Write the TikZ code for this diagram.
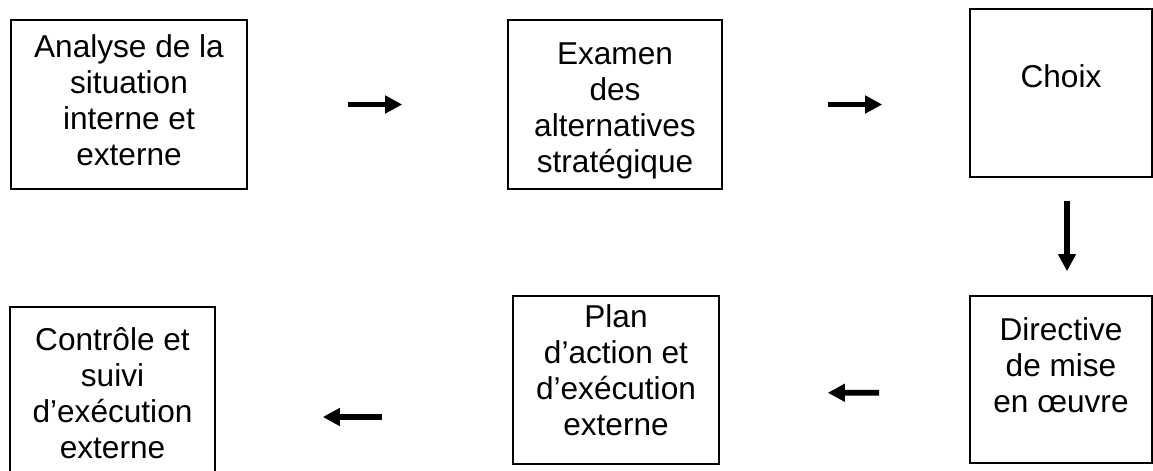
\documentclass[tikz,border=0pt]{standalone}
\usepackage{fontspec}
\setmainfont{Liberation Sans}
\usepackage{tikz}
\usetikzlibrary{positioning, arrows.meta}

\begin{document}
\begin{tikzpicture}[x=0.5pt, y=-0.5pt,
  box/.style={draw, line width=0.8pt, inner sep=0pt},
  txt/.style={inner sep=0pt, align=center, font=\fontsize{15.8pt}{18pt}\selectfont},
  flow/.style={line width=2.9pt, -{Triangle[length=8.5pt, width=8.5pt]}}]
\clip (0,0) rectangle (1153,471);
% boxes
\node[box, minimum width=118pt, minimum height=84.5pt] (analyse) at (129,104.5) {};
\node[box, minimum width=107pt, minimum height=84.5pt] (examen) at (615,104.5) {};
\node[box, minimum width=91pt, minimum height=84pt] (choix) at (1061,93) {};
\node[box, minimum width=91pt, minimum height=83.5pt] (directive) at (1061,379.5) {};
\node[box, minimum width=103pt, minimum height=84pt] (plan) at (616,380) {};
\node[box, minimum width=102.5pt, minimum height=84pt] (controle) at (112.5,391) {};
% texts
\node[txt, below=7.5pt of analyse.north] {Analyse de la\\situation\\interne et\\externe};
\node[txt, below=11.5pt of examen.north] {Examen\\des\\alternatives\\stratégique};
\node[txt, below=28pt of choix.north] {Choix};
\node[txt, below=11pt of directive.north] {Directive\\de mise\\en œuvre};
\node[txt, below=4.5pt of plan.north] {Plan\\d’action et\\d’exécution\\externe};
\node[txt, below=10.5pt of controle.north] {Contrôle et\\suivi\\d’exécution\\externe};
% arrows
\draw[flow, shorten <=50pt, shorten >=52.5pt] (analyse.east) -- (examen.west);
\draw[flow, shorten <=52.5pt, shorten >=43.5pt] (examen.east) -- (examen.east -| choix.west);
\draw[flow, shorten <=11.5pt, shorten >=12pt] ([xshift=3pt]choix.south) -- ([xshift=3pt]directive.north);
\draw[flow, shorten <=45pt, shorten >=54pt] ([yshift=-6.5pt]directive.west) -- ([yshift=-6.5pt]plan.east);
\draw[flow, shorten <=65pt, shorten >=53.5pt] ([yshift=-18.5pt]plan.west) -- ([yshift=-18.5pt]plan.west -| controle.east);
\end{tikzpicture}
\end{document}
